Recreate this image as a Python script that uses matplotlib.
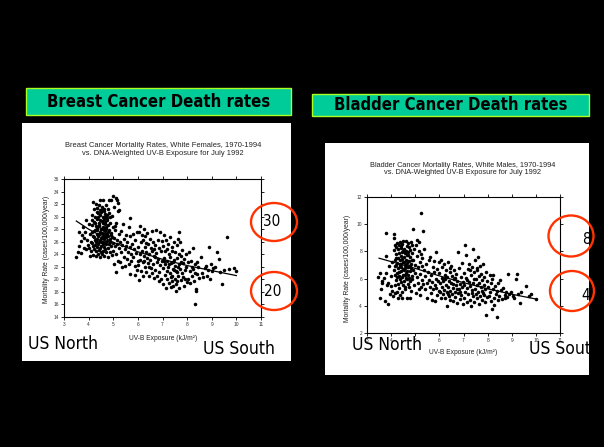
import matplotlib
matplotlib.use('Agg')
import matplotlib.pyplot as plt
from matplotlib.patches import Rectangle, Ellipse

W, H = 604, 447

# (UV-B exposure kJ/m2, mortality rate), breast cancer
breast_points = [
    (3.50, 23.5), (3.55, 24.3), (3.60, 27.6), (3.62, 25.3), (3.68, 26.1), (3.70, 24.2), (3.72, 27.0),
    (3.78, 28.4), (3.80, 25.0), (3.82, 26.6), (3.86, 27.6), (3.88, 24.8), (3.90, 29.5), (3.93, 26.3),
    (3.96, 25.4), (4.00, 28.8), (4.02, 25.0), (4.05, 23.8), (4.05, 27.3), (4.08, 26.0),
    (4.10, 24.5), (4.12, 27.5), (4.12, 30.3), (4.15, 25.8), (4.15, 28.6), (4.18, 32.4), (4.18, 23.9),
    (4.20, 26.7), (4.20, 29.2), (4.22, 24.8), (4.22, 31.2), (4.25, 27.9), (4.25, 25.4), (4.27, 30.0),
    (4.28, 23.7), (4.28, 28.5), (4.30, 26.2), (4.30, 32.0), (4.30, 24.6), (4.16, 26.9), (4.24, 26.3),
    (4.26, 29.0), (4.14, 29.5), (4.21, 27.7), (4.29, 25.9), (4.19, 25.3),
    (4.32, 27.3), (4.33, 29.6), (4.34, 25.1), (4.35, 31.4), (4.36, 26.5), (4.36, 28.2), (4.38, 24.0),
    (4.38, 30.6), (4.40, 27.0), (4.40, 25.6), (4.41, 29.0), (4.42, 31.9), (4.43, 26.0), (4.44, 28.5),
    (4.45, 23.6), (4.45, 30.2), (4.46, 27.6), (4.47, 25.0), (4.48, 29.5), (4.48, 32.6), (4.50, 26.6),
    (4.50, 28.0), (4.34, 27.9), (4.37, 26.9), (4.39, 29.9), (4.42, 24.7), (4.44, 27.2), (4.46, 31.0),
    (4.49, 24.3), (4.33, 30.8), (4.41, 28.6), (4.47, 26.2),
    (4.51, 30.7), (4.52, 25.3), (4.53, 27.4), (4.54, 29.3), (4.55, 31.6), (4.55, 24.1), (4.56, 26.0),
    (4.57, 28.4), (4.58, 30.0), (4.58, 26.8), (4.60, 32.6), (4.60, 25.6), (4.61, 27.9), (4.62, 29.7),
    (4.62, 23.8), (4.63, 31.2), (4.64, 26.4), (4.65, 28.8), (4.65, 24.9), (4.66, 30.4), (4.67, 27.2),
    (4.68, 25.9), (4.68, 29.1), (4.70, 31.8), (4.70, 26.7), (4.52, 28.1), (4.54, 26.6), (4.57, 29.0),
    (4.59, 27.3), (4.61, 30.9), (4.63, 28.1), (4.64, 25.1), (4.66, 27.7), (4.69, 28.4), (4.56, 31.0),
    (4.59, 24.6), (4.67, 30.0), (4.53, 25.9), (4.62, 26.9),
    (4.71, 24.3), (4.72, 28.0), (4.73, 30.3), (4.74, 26.1), (4.75, 27.3), (4.76, 29.4), (4.77, 25.0),
    (4.78, 31.2), (4.79, 26.9), (4.80, 28.6), (4.80, 23.6), (4.82, 32.7), (4.82, 25.7), (4.84, 27.8),
    (4.85, 30.0), (4.86, 24.4), (4.87, 26.5), (4.88, 29.0), (4.90, 32.7), (4.90, 25.3), (4.74, 29.8),
    (4.77, 27.6), (4.81, 30.6), (4.85, 26.0), (4.89, 27.4), (4.72, 25.6),
    (4.92, 27.1), (4.94, 23.9), (4.95, 30.1), (4.97, 25.8), (4.98, 28.3), (5.00, 33.3), (5.00, 24.6),
    (5.02, 26.6), (5.03, 31.6), (5.05, 22.5), (5.06, 27.8), (5.08, 25.3), (5.10, 33.0), (5.10, 21.2),
    (5.12, 29.0), (5.13, 24.1), (5.15, 32.6), (5.16, 26.2), (5.18, 30.9), (5.20, 23.0), (5.20, 32.2),
    (5.22, 27.3), (5.24, 25.0), (5.25, 31.0), (5.27, 22.7), (5.28, 26.0), (5.30, 24.3), (5.08, 28.5),
    (4.96, 26.7), (5.14, 25.6),
    (5.32, 27.7), (5.35, 21.9), (5.37, 25.5), (5.40, 28.8), (5.42, 23.5), (5.44, 26.4), (5.46, 24.8),
    (5.48, 22.2), (5.50, 27.0), (5.52, 25.3), (5.55, 23.2), (5.57, 26.0), (5.60, 24.4), (5.62, 28.3),
    (5.64, 22.5), (5.66, 25.1), (5.68, 20.8), (5.70, 26.9), (5.72, 24.0), (5.74, 22.9), (5.68, 29.8),
    (5.78, 25.7), (5.80, 23.6), (5.82, 27.2), (5.87, 20.7), (5.86, 24.9), (5.88, 22.2), (5.90, 26.2),
    (5.92, 24.2), (5.95, 21.5), (5.97, 27.6), (5.99, 23.0),
    (6.00, 25.2), (6.02, 22.3), (6.04, 27.5), (6.05, 19.9), (6.07, 24.0), (6.08, 28.5), (6.10, 23.1),
    (6.12, 25.9), (6.14, 21.4), (6.15, 27.0), (6.17, 24.6), (6.19, 22.7), (6.20, 26.3), (6.22, 20.5),
    (6.24, 23.8), (6.25, 28.0), (6.27, 25.1), (6.29, 22.0), (6.30, 26.9), (6.32, 24.3), (6.34, 21.2),
    (6.36, 23.4), (6.38, 27.4), (6.40, 25.6), (6.42, 22.6), (6.44, 24.0), (6.46, 20.6), (6.48, 26.4),
    (6.50, 23.1), (6.52, 25.0), (6.54, 21.8), (6.56, 27.7), (6.58, 24.5), (6.60, 22.4), (6.62, 26.0),
    (6.64, 20.2), (6.66, 23.7), (6.68, 25.4), (6.70, 21.5), (6.72, 27.9), (6.74, 24.2), (6.76, 22.8),
    (6.78, 20.6), (6.80, 26.3), (6.82, 23.2), (6.84, 25.0), (6.86, 21.1), (6.88, 27.5), (6.90, 22.3),
    (6.92, 24.6), (6.94, 20.0), (6.96, 26.1), (6.98, 23.0), (6.26, 23.0), (6.45, 22.0), (6.58, 21.0),
    (6.70, 23.5), (6.85, 19.8), (6.35, 25.8), (6.65, 24.8),
    (7.00, 21.8), (7.02, 25.3), (7.04, 19.2), (7.05, 23.4), (7.07, 27.0), (7.09, 20.7), (7.10, 22.5),
    (7.12, 24.6), (7.14, 18.6), (7.15, 26.2), (7.17, 21.3), (7.19, 23.0), (7.20, 20.0), (7.22, 25.7),
    (7.24, 22.0), (7.25, 19.5), (7.27, 24.0), (7.29, 26.7), (7.30, 21.0), (7.32, 23.6), (7.34, 18.8),
    (7.35, 22.6), (7.37, 25.1), (7.39, 20.5), (7.40, 24.5), (7.42, 21.7), (7.44, 19.0), (7.45, 23.1),
    (7.47, 26.0), (7.49, 20.1), (7.50, 22.2), (7.52, 24.3), (7.54, 18.2), (7.55, 21.4), (7.57, 25.5),
    (7.59, 19.7), (7.60, 23.4), (7.62, 22.0), (7.64, 20.6), (7.65, 27.5), (7.67, 24.0), (7.69, 18.7),
    (7.70, 21.6), (7.72, 25.9), (7.74, 22.8), (7.75, 19.9), (7.77, 23.7), (7.79, 21.0), (7.80, 24.7),
    (7.82, 20.4), (7.84, 22.6), (7.86, 18.9), (7.88, 23.3), (7.90, 21.5), (7.92, 20.1), (7.95, 24.0),
    (7.97, 22.0), (7.99, 19.6), (7.08, 22.9), (7.26, 22.4), (7.43, 22.8), (7.58, 21.2), (7.68, 22.5),
    (7.48, 21.5), (7.33, 20.3), (7.18, 24.8), (7.63, 26.5), (7.53, 19.3), (7.38, 19.8),
    (8.02, 22.7), (8.05, 20.0), (8.08, 24.4), (8.10, 21.3), (8.12, 19.4), (8.15, 23.0), (8.18, 22.0),
    (8.20, 20.6), (8.22, 21.6), (8.25, 25.0), (8.28, 19.8), (8.30, 16.0), (8.30, 22.4), (8.33, 21.0),
    (8.36, 18.5), (8.38, 18.1), (8.40, 20.8), (8.42, 22.8), (8.45, 21.9), (8.48, 20.2),
    (8.55, 23.5), (8.60, 21.0), (8.65, 20.3), (8.72, 21.8), (8.78, 22.2), (8.85, 21.5), (8.90, 25.2),
    (8.92, 20.0), (8.95, 22.4), (9.00, 21.3), (9.05, 21.8), (9.15, 22.0), (9.20, 24.4), (9.30, 23.2),
    (9.35, 21.1), (9.40, 19.3), (9.60, 26.8), (9.70, 21.7), (9.90, 21.8), (10.00, 21.3), (9.50, 21.5),
    (8.80, 20.6),
]
breast_fit_x = [3.5, 4.0, 5.0, 6.0, 7.0, 8.0, 9.0, 10.0]
breast_fit_y = [29.3, 28.0, 25.9, 24.4, 23.2, 22.2, 21.4, 20.6]

# bladder cancer, white males
bladder_points = [
    (3.47, 6.15), (3.52, 6.40), (3.54, 4.55), (3.58, 5.20), (3.62, 5.85), (3.64, 5.68), (3.70, 6.05),
    (3.75, 4.35), (3.77, 6.42), (3.80, 7.65), (3.80, 9.35), (3.84, 5.55), (3.86, 5.65), (3.88, 4.16),
    (3.92, 6.90), (3.95, 4.90), (3.98, 5.45), (4.00, 6.20), (4.02, 5.10), (4.05, 7.20), (4.08, 4.70),
    (4.10, 6.60), (4.12, 9.25), (4.12, 9.00), (4.13, 8.10), (4.14, 5.50), (4.15, 7.40), (4.16, 6.26),
    (4.17, 8.45), (4.18, 4.95), (4.19, 7.00), (4.20, 5.90), (4.21, 7.80), (4.22, 8.30), (4.23, 6.40),
    (4.24, 5.00), (4.25, 7.15), (4.26, 8.60), (4.27, 5.60), (4.28, 6.80), (4.29, 7.55), (4.30, 4.55),
    (4.30, 8.15), (4.18, 6.95), (4.26, 6.10), (4.22, 7.55),
    (4.31, 6.20), (4.32, 7.90), (4.33, 5.30), (4.34, 8.50), (4.35, 6.90), (4.36, 7.35), (4.37, 4.80),
    (4.38, 8.70), (4.39, 6.55), (4.40, 7.65), (4.41, 5.75), (4.42, 8.25), (4.43, 7.10), (4.44, 6.10),
    (4.45, 8.55), (4.46, 5.00), (4.47, 7.45), (4.48, 6.70), (4.49, 8.00), (4.50, 5.50), (4.50, 7.25),
    (4.34, 6.45), (4.38, 7.10), (4.42, 6.85), (4.46, 7.95), (4.40, 8.40), (4.48, 6.25), (4.36, 5.95),
    (4.44, 4.60),
    (4.51, 8.75), (4.52, 6.60), (4.53, 7.60), (4.54, 5.85), (4.55, 8.20), (4.56, 7.00), (4.57, 6.30),
    (4.58, 7.85), (4.59, 5.20), (4.60, 8.80), (4.61, 6.90), (4.62, 7.40), (4.63, 6.05), (4.64, 8.40),
    (4.65, 4.55), (4.66, 7.15), (4.67, 6.55), (4.68, 7.95), (4.69, 5.60), (4.70, 8.60), (4.54, 7.20),
    (4.58, 6.75), (4.62, 8.05), (4.66, 6.00), (4.70, 7.30), (4.56, 5.40), (4.64, 7.70), (4.60, 6.40),
    (4.68, 6.85),
    (4.71, 6.30), (4.72, 7.75), (4.73, 5.40), (4.74, 8.35), (4.75, 6.95), (4.76, 7.30), (4.77, 5.80),
    (4.78, 8.10), (4.79, 6.55), (4.80, 7.60), (4.81, 5.10), (4.82, 8.70), (4.83, 6.80), (4.84, 7.05),
    (4.85, 5.95), (4.86, 7.85), (4.87, 6.20), (4.88, 8.45), (4.89, 9.62), (4.90, 6.65), (4.75, 6.05),
    (4.80, 6.95), (4.85, 7.40), (4.78, 4.60),
    (4.92, 7.40), (4.94, 5.55), (4.96, 8.20), (4.98, 6.40), (5.00, 7.00), (5.02, 4.95), (5.04, 8.50),
    (5.06, 6.10), (5.08, 7.65), (5.09, 8.84), (5.10, 5.70), (5.12, 6.85), (5.14, 8.00), (5.16, 5.25),
    (5.17, 8.70), (5.18, 7.25), (5.20, 4.77), (5.20, 6.35), (5.22, 7.80), (5.24, 10.80), (5.24, 5.40),
    (5.26, 6.95), (5.28, 5.90), (5.30, 7.50), (5.33, 9.50), (5.34, 5.60), (5.36, 6.60), (5.38, 8.15),
    (5.40, 5.20),
    (5.42, 6.20), (5.45, 7.10), (5.48, 5.70), (5.50, 4.60), (5.52, 6.50), (5.55, 5.90), (5.58, 7.40),
    (5.60, 5.35), (5.61, 7.60), (5.64, 6.25), (5.66, 4.95), (5.68, 4.42), (5.70, 5.75), (5.72, 6.85),
    (5.74, 5.20), (5.76, 6.45), (5.78, 7.30), (5.80, 5.55), (5.82, 4.35), (5.84, 6.00), (5.86, 7.93),
    (5.88, 5.30), (5.90, 6.70), (5.92, 4.80), (5.95, 5.85), (5.97, 7.20), (5.99, 5.10),
    (6.00, 6.40), (6.02, 5.00), (6.04, 5.65), (6.05, 7.35), (6.07, 4.55), (6.09, 6.05), (6.10, 5.35),
    (6.12, 6.85), (6.14, 4.85), (6.16, 5.80), (6.18, 7.05), (6.20, 5.15), (6.22, 6.30), (6.24, 4.60),
    (6.26, 5.55), (6.28, 6.65), (6.30, 4.00), (6.30, 5.00), (6.32, 6.10), (6.34, 5.40), (6.36, 7.25),
    (6.38, 4.70), (6.40, 5.85), (6.42, 6.45), (6.44, 5.10), (6.46, 4.45), (6.48, 5.70), (6.50, 6.95),
    (6.52, 4.90), (6.54, 6.20), (6.56, 5.30), (6.58, 4.35), (6.60, 5.95), (6.62, 6.60), (6.64, 5.05),
    (6.66, 4.65), (6.68, 5.50), (6.70, 6.35), (6.72, 4.20), (6.74, 5.80), (6.76, 4.95), (6.78, 7.97),
    (6.80, 5.25), (6.82, 6.75), (6.84, 4.50), (6.86, 5.60), (6.88, 6.15), (6.90, 4.80), (6.92, 5.40),
    (6.94, 7.15), (6.96, 4.10), (6.98, 5.75), (6.15, 5.95), (6.35, 4.90), (6.55, 5.60), (6.75, 5.20),
    (6.45, 6.80), (6.65, 6.05), (6.25, 6.00), (6.85, 5.00),
    (7.00, 5.50), (7.02, 6.40), (7.04, 4.60), (7.06, 8.47), (7.08, 5.05), (7.10, 6.05), (7.12, 7.70),
    (7.14, 4.25), (7.16, 5.30), (7.18, 6.70), (7.20, 4.90), (7.22, 5.75), (7.24, 7.05), (7.26, 4.45),
    (7.28, 5.45), (7.30, 6.25), (7.32, 3.95), (7.34, 5.15), (7.36, 6.85), (7.38, 4.70), (7.40, 8.17),
    (7.40, 5.65), (7.42, 6.45), (7.44, 4.30), (7.46, 5.25), (7.48, 7.35), (7.50, 4.85), (7.52, 6.00),
    (7.54, 5.50), (7.56, 4.55), (7.58, 6.60), (7.60, 5.05), (7.62, 7.60), (7.64, 4.15), (7.66, 5.70),
    (7.68, 6.90), (7.70, 4.75), (7.72, 5.35), (7.74, 6.35), (7.76, 4.40), (7.78, 5.90), (7.80, 7.10),
    (7.82, 4.95), (7.84, 5.55), (7.86, 6.15), (7.88, 4.25), (7.90, 5.20), (7.92, 3.32), (7.94, 6.50),
    (7.96, 4.65), (7.98, 5.80), (7.15, 5.90), (7.35, 4.95), (7.55, 6.80), (7.75, 5.10), (7.45, 5.95),
    (7.65, 6.20), (7.25, 6.60), (7.85, 4.80),
    (8.02, 5.35), (8.05, 4.70), (8.08, 6.30), (8.10, 5.00), (8.12, 4.35), (8.15, 5.70), (8.17, 6.00),
    (8.20, 3.80), (8.22, 5.20), (8.23, 6.26), (8.25, 4.60), (8.28, 4.06), (8.30, 5.45), (8.33, 4.90),
    (8.37, 3.18), (8.40, 5.10), (8.42, 4.40), (8.45, 5.65), (8.48, 4.75),
    (8.51, 5.90), (8.56, 5.16), (8.60, 4.50), (8.65, 5.30), (8.70, 4.80), (8.70, 4.55), (8.75, 5.05),
    (8.80, 4.65), (8.86, 6.31), (8.90, 4.85), (8.97, 5.00), (9.05, 4.75), (9.16, 5.97), (9.20, 6.31),
    (9.25, 4.90), (9.34, 4.23), (9.40, 5.00), (9.57, 5.48), (9.70, 4.70), (9.80, 4.84), (9.99, 4.50),
    (9.10, 4.60),
]
bladder_fit_x = [3.5, 5.0, 6.0, 7.0, 8.0, 9.0, 10.0]
bladder_fit_y = [7.5, 6.75, 6.2, 5.7, 5.25, 4.85, 4.5]

x_ticks = [3, 4, 5, 6, 7, 8, 9, 10, 11]
breast_y_ticks = [14, 16, 18, 20, 22, 24, 26, 28, 30, 32, 34, 36]
bladder_y_ticks = [2, 4, 6, 8, 10, 12]

breast_title = 'Breast Cancer Mortality Rates, White Females, 1970-1994\nvs. DNA-Weighted UV-B Exposure for July 1992'
bladder_title = 'Bladder Cancer Mortality Rates, White Males, 1970-1994\nvs. DNA-Weighted UV-B Exposure for July 1992'

CHART_FONT = 'Liberation Sans'
SLIDE_FONT = 'DejaVu Sans'
RED = '#ff3300'


def box(x0, y0, x1, y1):
    # pixel box (top-left origin) -> figure fraction rect
    return (x0 / W, 1 - y1 / H, (x1 - x0) / W, (y1 - y0) / H)


def fxy(x, y):
    return x / W, 1 - y / H


fig = plt.figure(figsize=(W / 100, H / 100), dpi=100)
fig.patch.set_facecolor('black')

# white slide panels
panel_l = Rectangle(box(22, 123, 291, 361)[:2], *box(22, 123, 291, 361)[2:],
                    transform=fig.transFigure, facecolor='white', edgecolor='none', zorder=-5)
panel_r = Rectangle(box(325, 143, 589, 375)[:2], *box(325, 143, 589, 375)[2:],
                    transform=fig.transFigure, facecolor='white', edgecolor='none', zorder=-5)
fig.add_artist(panel_l)
fig.add_artist(panel_r)

# green header boxes
for (x0, y0, x1, y1), label in [((26, 88, 291, 115), 'Breast Cancer Death rates'),
                                ((312, 94, 589, 116), 'Bladder Cancer Death rates')]:
    r = box(x0, y0, x1, y1)
    fig.add_artist(Rectangle(r[:2], *r[2:], transform=fig.transFigure,
                             facecolor='#00cc99', edgecolor='#aaff22', lw=1, zorder=2))
    fig.text(*fxy((x0 + x1) / 2, (y0 + y1) / 2 + 0.5), label, ha='center', va='center',
             fontsize=12, fontweight='bold', family=SLIDE_FONT, fontstretch='condensed', zorder=3)


def draw_chart(ax, pts, fit_x, fit_y, yticks):
    xs = [p[0] for p in pts]
    ys = [p[1] for p in pts]
    ax.scatter(xs, ys, s=6.5, color='black', linewidths=0, zorder=3)
    ax.plot(fit_x, fit_y, color='black', lw=0.9, zorder=4)
    ax.set_xlim(3, 11)
    ax.set_ylim(yticks[0], yticks[-1])
    ax.set_xticks(x_ticks)
    ax.set_yticks(yticks)
    ax.tick_params(direction='out', length=2, width=0.6, labelsize=3.5, pad=1.5,
                   top=True, right=True, labelcolor='#333333')
    for lab in ax.get_xticklabels() + ax.get_yticklabels():
        lab.set_family(CHART_FONT)
    for sp in ax.spines.values():
        sp.set_linewidth(0.8)


ax1 = fig.add_axes(box(64, 179, 261, 317))
draw_chart(ax1, breast_points, breast_fit_x, breast_fit_y, breast_y_ticks)
ax2 = fig.add_axes(box(367, 197, 560, 333))
draw_chart(ax2, bladder_points, bladder_fit_x, bladder_fit_y, bladder_y_ticks)

# chart titles and axis labels (placed in slide pixels)
small = dict(family=CHART_FONT, color='#222222', ha='center', va='center')
fig.text(*fxy(163, 149.5), breast_title, fontsize=5.4, linespacing=1.05, **small)
fig.text(*fxy(463, 169), bladder_title, fontsize=5.3, linespacing=1.05, **small)
fig.text(*fxy(163, 338), 'UV-B Exposure (kJ/m\u00b2)', fontsize=4.8, **small)
fig.text(*fxy(463, 352), 'UV-B Exposure (kJ/m\u00b2)', fontsize=4.8, **small)
fig.text(*fxy(46, 249), 'Mortality Rate (cases/100,000/year)', rotation=90, fontsize=4.9, **small)
fig.text(*fxy(348, 268), 'Mortality Rate (cases/100,000/year)', rotation=90, fontsize=4.9, **small)

# slide annotations
big = dict(fontsize=12.5, family=SLIDE_FONT, fontstretch='condensed', color='black', zorder=6)
fig.text(*fxy(28, 344), 'US North', ha='left', va='center', **big)
fig.text(*fxy(275, 348.5), 'US South', ha='right', va='center', **big)
fig.text(*fxy(352, 345), 'US North', ha='left', va='center', **big)
t = fig.text(*fxy(529, 349), 'US South', ha='left', va='center', **big)
t.set_clip_path(panel_r)

mid = dict(fontsize=11, family=SLIDE_FONT, fontstretch='condensed', color='black', zorder=6)
fig.text(*fxy(263, 221), '30', ha='left', va='center', **mid)
fig.text(*fxy(264, 291), '20', ha='left', va='center', **mid)
fig.text(*fxy(582, 240), '8', ha='left', va='center', **mid)
fig.text(*fxy(581, 295), '4', ha='left', va='center', **mid)

for cx, cy, w, h in [(274, 222, 46, 38), (274, 291, 46, 38), (571, 236, 45, 41), (572, 291, 44, 40)]:
    fig.add_artist(Ellipse(fxy(cx, cy), w / W, h / H, transform=fig.transFigure,
                           fill=False, edgecolor=RED, lw=1.7, zorder=7))

fig.savefig('out.png', dpi=100, facecolor='black')
